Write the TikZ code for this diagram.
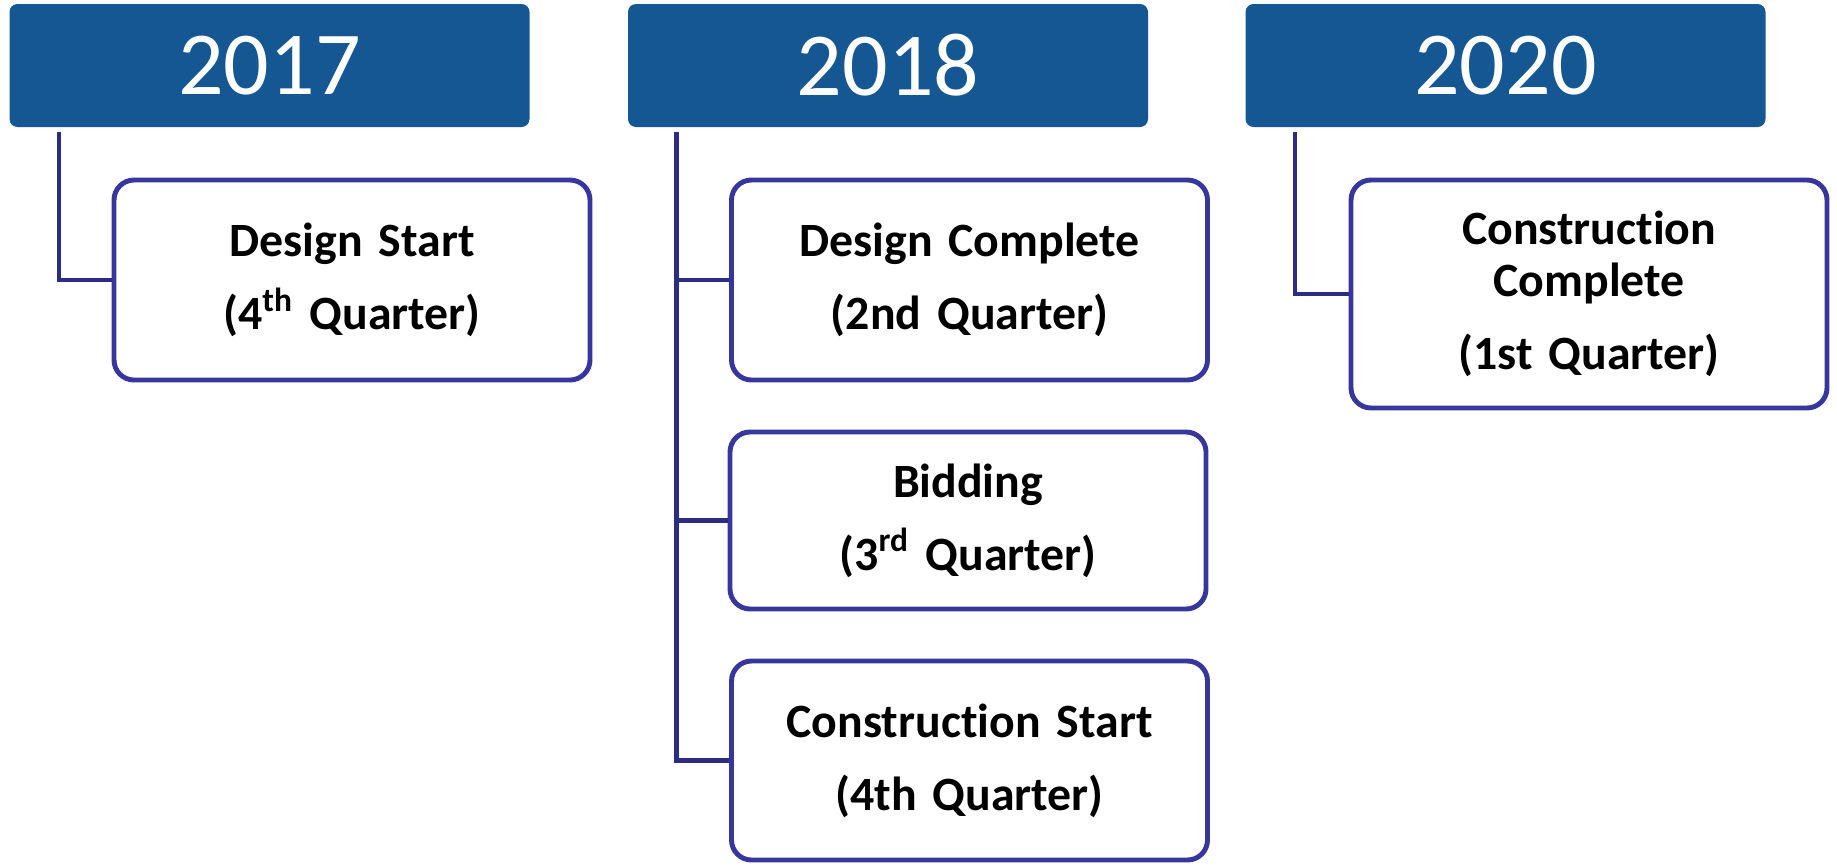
\documentclass[tikz,border=0pt]{standalone}
\usepackage{fontspec}
\setmainfont{Carlito}[Ligatures=NoCommon]
\definecolor{yearblue}{RGB}{20,87,147}
\definecolor{boxline}{RGB}{54,54,156}
\definecolor{linkline}{RGB}{44,44,130}
\begin{document}
\begin{tikzpicture}[
    year/.style={fill=yearblue, rounded corners=0.08cm, minimum width=5.2cm, minimum height=1.23cm,
        text=white, font=\fontsize{25.6}{30}\selectfont},
    event/.style={draw=boxline, line width=1.4pt, rounded corners=0.2cm, fill=white,
        minimum width=4.76cm, text width=4.3cm, align=center,
        font=\fontsize{13.6}{14.8}\selectfont\bfseries},
    link/.style={draw=linkline, line width=1.3pt}]
            \useasboundingbox (0,0) rectangle (18.37,-8.66);
            \node[year] (Y1) at (2.695,-0.655) {2017};
            \node[year] (Y2) at (8.88,-0.655) {2018};
            \node[year] (Y3) at (15.055,-0.655) {2020};
            \coordinate (s17) at ([xshift=0.5cm,yshift=-0.04cm]Y1.south west);
            \coordinate (s18) at ([xshift=0.49cm,yshift=-0.04cm]Y2.south west);
            \coordinate (s20) at ([xshift=0.5cm,yshift=-0.04cm]Y3.south west);
            \node[event, minimum height=2.0cm] (ds) at (3.52,-2.80) {Design Start\\[6pt](4\textsuperscript{th} Quarter)};
            \node[event, minimum height=2.0cm] (dc) at (9.695,-2.80) {Design Complete\\[6pt](2nd Quarter)};
            \node[event, minimum height=1.77cm] (bd) at (9.68,-5.205) {Bidding\\[6pt](3\textsuperscript{rd} Quarter)};
            \node[event, minimum height=1.99cm] (cs) at (9.695,-7.605) {Construction Start\\[6pt](4th Quarter)};
            \node[event, minimum height=2.28cm] (cc) at (15.89,-2.94) {Construction\\Complete\\[6pt](1st Quarter)};
            \draw[link] (s17) |- (ds.west);
            \draw[link] (s18) |- (dc.west);
            \draw[link] (s18) |- (bd.west);
            \draw[link] (s18) |- (cs.west);
            \draw[link] (s20) |- (cc.west);
        \end{tikzpicture}
\end{document}
